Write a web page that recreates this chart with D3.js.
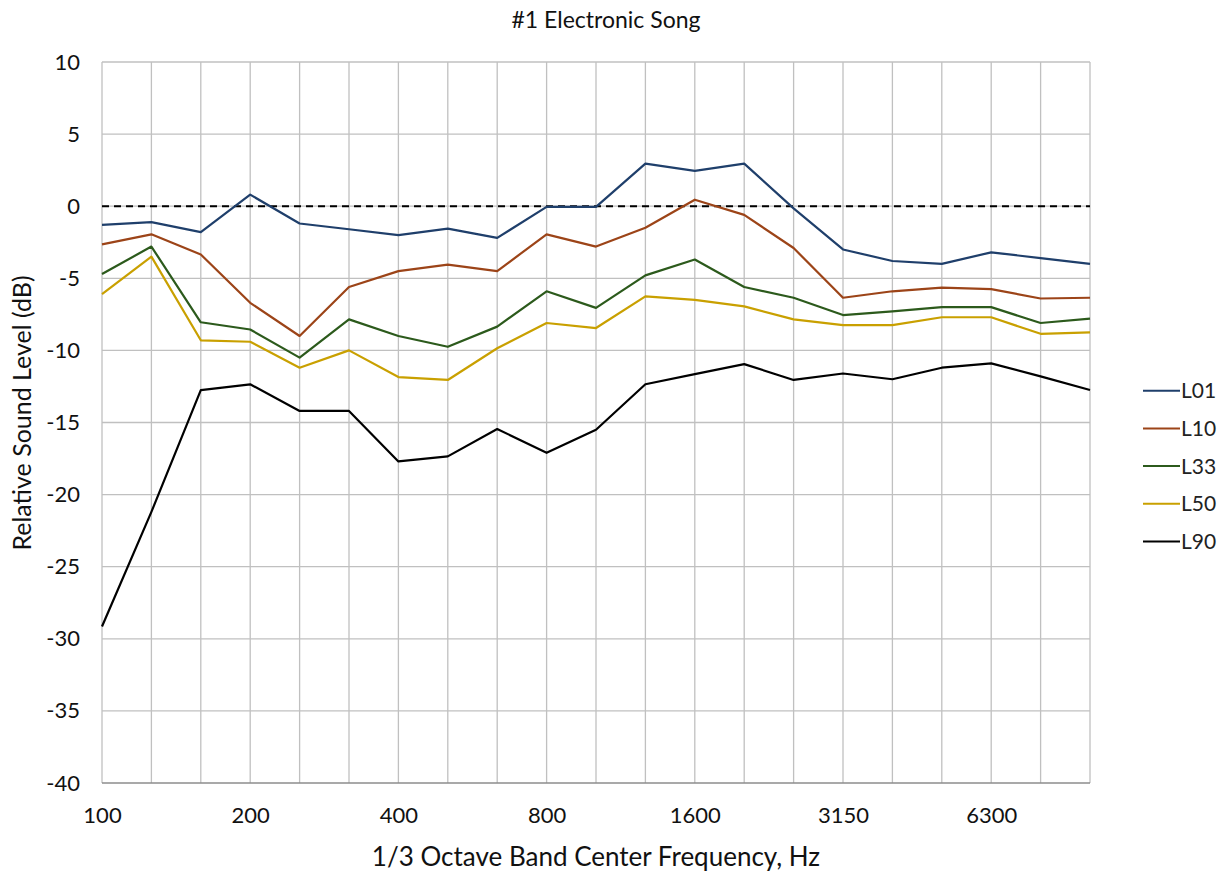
<!DOCTYPE html>
<html>
<head>
<meta charset="utf-8">
<script src="https://cdn.jsdelivr.net/npm/d3@7"></script>
<style>
  body { margin: 0; background: #fff; }
  svg { font-family: Lato, "Open Sans", sans-serif; }
</style>
</head>
<body>
<div id="chart"></div>
<script>
var width = 1225;
var height = 876;

// 1/3 octave band centers
var bands = ["100", "125", "160", "200", "250", "315", "400", "500", "630", "800", "1000",
             "1250", "1600", "2000", "2500", "3150", "4000", "5000", "6300", "8000", "10000"];
var shownBands = ["100", "200", "400", "800", "1600", "3150", "6300"];
var yTicks = [10, 5, 0, -5, -10, -15, -20, -25, -30, -35, -40];

var names = ["L01", "L10", "L33", "L50", "L90"];
var colors = ["#1F3F6B", "#9C4418", "#2C5A1C", "#C9A000", "#000000"];

var L01 = [-1.3, -1.1, -1.8, 0.8, -1.2, -1.6, -2.0, -1.55, -2.2, -0.05, -0.05, 2.95, 2.45, 2.95, -0.15, -3.0, -3.8, -4.0, -3.2, -3.6, -4.0];
var L10 = [-2.65, -1.95, -3.35, -6.7, -9.0, -5.6, -4.5, -4.05, -4.5, -1.95, -2.8, -1.5, 0.45, -0.6, -2.9, -6.35, -5.9, -5.65, -5.75, -6.4, -6.35];
var L33 = [-4.7, -2.8, -8.05, -8.55, -10.5, -7.85, -9.0, -9.75, -8.35, -5.9, -7.05, -4.8, -3.7, -5.6, -6.35, -7.55, -7.3, -7.0, -7.0, -8.1, -7.8];
var L50 = [-6.1, -3.5, -9.3, -9.4, -11.2, -10.0, -11.85, -12.05, -9.85, -8.1, -8.45, -6.25, -6.5, -6.95, -7.85, -8.25, -8.25, -7.7, -7.7, -8.85, -8.75];
var L90 = [-29.15, -21.2, -12.75, -12.35, -14.2, -14.2, -17.7, -17.35, -15.45, -17.1, -15.5, -12.35, -11.65, -10.95, -12.05, -11.6, -12.0, -11.2, -10.9, -11.8, -12.75];

var series = [L01, L10, L33, L50, L90];

var margin = {left: 102, top: 62, right: 135, bottom: 93};
var tickFont = '22px';

var svg = d3.select('#chart').append('svg')
    .attr('width', width)
    .attr('height', height);

var x = d3.scalePoint().domain(bands).range([margin.left, width - margin.right]);
var y = d3.scaleLinear().domain([-40, 10]).range([height - margin.bottom, margin.top]);

// vertical grid
svg.append('g')
    .selectAll('line')
    .data(bands)
    .enter().append('line')
    .attr('x1', function(d) { return x(d); })
    .attr('x2', function(d) { return x(d); })
    .attr('y1', y(10))
    .attr('y2', y(-40))
    .attr('stroke', '#c0c0c0')
    .attr('stroke-width', 1.3);

// horizontal grid
svg.append('g')
    .selectAll('line')
    .data(yTicks)
    .enter().append('line')
    .attr('x1', x(bands[0]))
    .attr('x2', x(bands[bands.length - 1]))
    .attr('y1', function(d) { return y(d); })
    .attr('y2', function(d) { return y(d); })
    .attr('stroke', function(d) { return d === -40 ? '#8c8c8c' : '#c0c0c0'; })
    .attr('stroke-width', 1.3);

// axes (text only, lines drawn by grid)
var yAxis = svg.append('g')
    .attr('transform', 'translate(' + (margin.left - 22) + ',0)')
    .call(d3.axisLeft(y).tickValues(yTicks).tickSize(0).tickPadding(0)
        .tickFormat(function(d) { return String(d); }));
yAxis.select('.domain').remove();
yAxis.selectAll('text')
    .style('font-size', tickFont)
    .style('font-family', 'Lato, "Open Sans", sans-serif')
    .attr('fill', '#111');

var xAxis = svg.append('g')
    .attr('transform', 'translate(0,' + (height - margin.bottom) + ')')
    .call(d3.axisBottom(x).tickValues(shownBands).tickSize(0).tickPadding(24));
xAxis.select('.domain').remove();
xAxis.selectAll('text')
    .style('font-size', tickFont)
    .style('font-family', 'Lato, "Open Sans", sans-serif')
    .attr('fill', '#111');

// zero reference
svg.append('line')
    .attr('x1', x(bands[0]))
    .attr('x2', x(bands[bands.length - 1]))
    .attr('y1', y(0))
    .attr('y2', y(0))
    .attr('stroke', '#000')
    .attr('stroke-width', 2)
    .attr('stroke-dasharray', '7,5');

var line = d3.line()
    .x(function(d, i) { return x(bands[i]); })
    .y(function(d) { return y(d); });

svg.append('g')
    .selectAll('path')
    .data(series)
    .enter().append('path')
    .attr('d', line)
    .attr('fill', 'none')
    .attr('stroke', function(d, i) { return colors[i]; })
    .attr('stroke-width', 2.2)
    .attr('stroke-linejoin', 'round');

// legend
var legend = svg.append('g')
    .selectAll('g')
    .data(names)
    .enter().append('g')
    .attr('transform', function(d, i) { return 'translate(1143,' + (390.7 + i * 37.7) + ')'; });
legend.append('line')
    .attr('x1', 0).attr('x2', 37)
    .attr('stroke', function(d, i) { return colors[i]; })
    .attr('stroke-width', 2);
legend.append('text')
    .attr('x', 38)
    .attr('dy', '0.36em')
    .style('font-size', '21px')
    .attr('fill', '#222')
    .text(function(d) { return d; });

// titles
svg.append('text')
    .attr('x', 606)
    .attr('y', 28)
    .attr('text-anchor', 'middle')
    .style('font-size', '23px')
    .attr('fill', '#111')
    .text('#1 Electronic Song');

svg.append('text')
    .attr('x', 596)
    .attr('y', 866)
    .attr('text-anchor', 'middle')
    .style('font-size', '26px')
    .attr('fill', '#111')
    .text('1/3 Octave Band Center Frequency, Hz');

svg.append('text')
    .attr('transform', 'translate(31,' + 413 + ') rotate(-90)')
    .attr('text-anchor', 'middle')
    .style('font-size', '25px')
    .attr('fill', '#111')
    .text('Relative Sound Level (dB)');
</script>
</body>
</html>
